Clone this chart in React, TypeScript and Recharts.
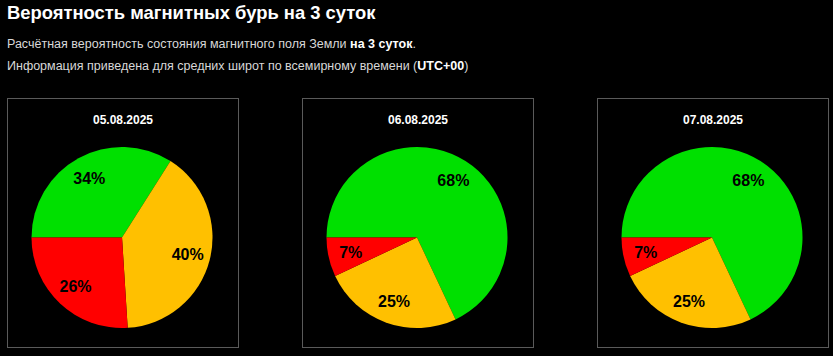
import { PieChart, Pie, Cell } from 'recharts';

const days = ['05.08.2025', '06.08.2025', '07.08.2025'];
const states = ['Спокойное', 'Возмущённое', 'Буря'];
const quiet = [34, 68, 68];
const unsettled = [40, 25, 25];
const storm = [26, 7, 7];
const colors = ['#00e000', '#ffc000', '#ff0000'];

const RAD = Math.PI / 180;

const renderLabel = (props: any) => {
  const { cx, cy, midAngle, outerRadius, value } = props;
  const r = outerRadius * 0.75;
  const x = cx + r * Math.cos(-midAngle * RAD);
  const y = cy + r * Math.sin(-midAngle * RAD);
  return (
    <text
      x={x}
      y={y}
      fill="#000"
      textAnchor="middle"
      dominantBaseline="central"
      style={{ fontSize: 16, fontWeight: 700, fontFamily: '"Liberation Sans", Arial, sans-serif' }}
    >
      {value}%
    </text>
  );
};

function DayPie({ idx }: { idx: number }) {
  const data = states.map((name, i) => ({
    name,
    value: [quiet, unsettled, storm][i][idx],
  }));

  return (
    <div
      style={{
        position: 'absolute',
        left: 7 + idx * 295,
        top: 98,
        width: 230,
        height: 248,
        border: '1px solid #5a5a5a',
      }}
    >
      <div
        style={{
          position: 'absolute',
          top: 14,
          width: '100%',
          textAlign: 'center',
          color: '#fff',
          fontSize: 12,
          fontWeight: 700,
        }}
      >
        {days[idx]}
      </div>
      <PieChart
        width={230}
        height={248}
        margin={{ top: 0, right: 0, bottom: 0, left: 0 }}
        style={{ position: 'absolute', left: 0, top: 0 }}
      >
        <Pie
          data={data}
          dataKey="value"
          cx={114}
          cy={138.5}
          outerRadius={90.5}
          startAngle={180}
          endAngle={-180}
          stroke="none"
          label={renderLabel}
          labelLine={false}
          isAnimationActive={false}
        >
          {data.map((d, i) => (
            <Cell key={d.name} fill={colors[i]} />
          ))}
        </Pie>
      </PieChart>
    </div>
  );
}

export default function App() {
  return (
    <div
      style={{
        position: 'relative',
        width: 833,
        height: 356,
        background: '#000',
        fontFamily: '"Liberation Sans", Arial, sans-serif',
        overflow: 'hidden',
      }}
    >
      <style>{'body{margin:0;background:#000}'}</style>
      <div style={{ position: 'absolute', left: 7, top: 2, color: '#fff', fontSize: 18.4, fontWeight: 700 }}>
        Вероятность магнитных бурь на 3 суток
      </div>
      <div style={{ position: 'absolute', left: 7, top: 33, color: '#d8d8d8', fontSize: 12.5, lineHeight: '22px' }}>
        Расчётная вероятность состояния магнитного поля Земли <b style={{ color: '#fff' }}>на 3 суток</b>.
        <br />
        Информация приведена для средних широт по всемирному времени (<b style={{ color: '#fff' }}>UTC+00</b>)
      </div>
      {days.map((d, i) => (
        <DayPie key={d} idx={i} />
      ))}
    </div>
  );
}
